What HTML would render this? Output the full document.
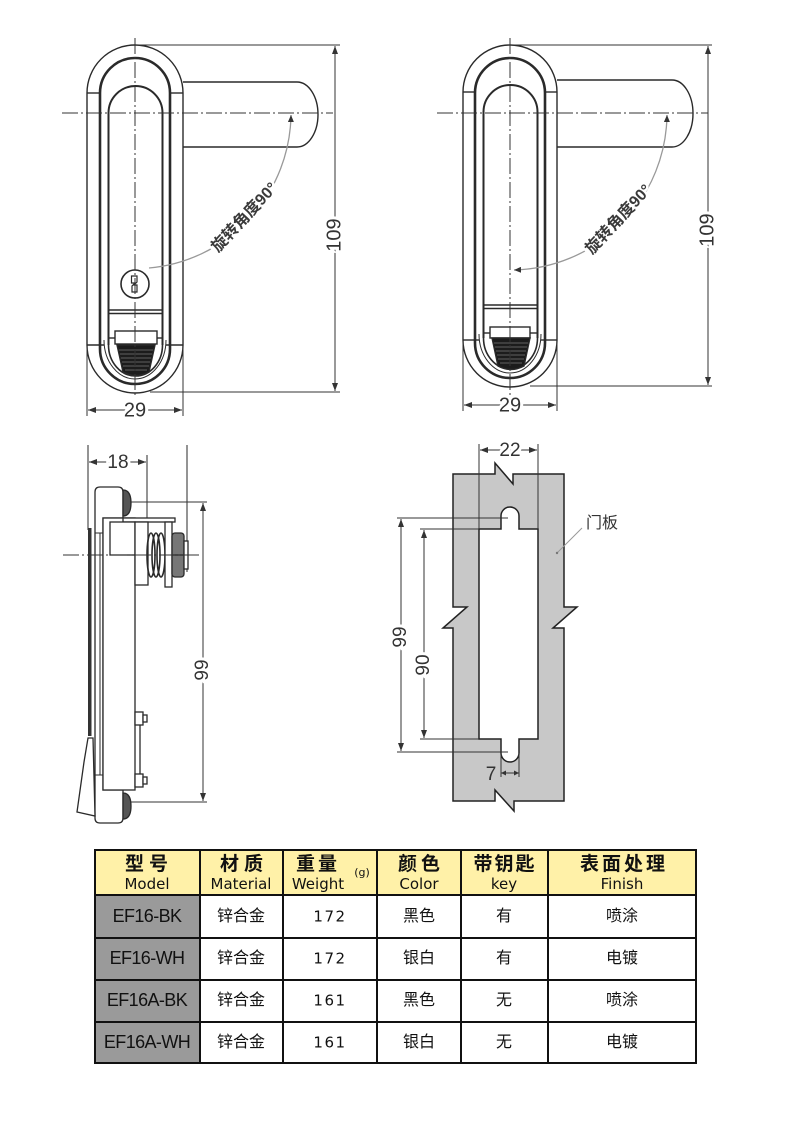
<!DOCTYPE html>
<html><head><meta charset="utf-8"><style>
html,body{margin:0;padding:0;background:#fff;}
svg{display:block;}
text{font-family:"Liberation Sans","Noto Sans CJK SC",sans-serif;}
</style></head><body>
<svg width="790" height="1124" viewBox="0 0 790 1124" xmlns="http://www.w3.org/2000/svg">
<defs>
<marker id="ar" markerWidth="8" markerHeight="6" refX="8" refY="3" orient="auto-start-reverse" markerUnits="userSpaceOnUse"><path d="M0,0 L8,3 L0,6 z" fill="#333"/></marker>
<marker id="ag" markerWidth="7" markerHeight="6" refX="7" refY="3" orient="auto-start-reverse" markerUnits="userSpaceOnUse"><path d="M0,0 L7,3 L0,6 z" fill="#333"/></marker>
</defs>
<rect width="790" height="1124" fill="#fff"/>

<!-- ========== TOP LEFT ========== -->
<g fill="none" stroke="#2a2a2a" stroke-width="1.4">
  <path d="M183,82 H297 A21,32.5 0 0 1 297,147 H183"/>
  <rect x="87" y="45" width="96" height="348" rx="48" fill="#fff"/>
  <line x1="87" y1="93" x2="100" y2="93"/><line x1="170" y1="93" x2="183" y2="93"/>
  <line x1="87" y1="345" x2="104" y2="345"/><line x1="166" y1="345" x2="183" y2="345"/>
  <rect x="100" y="58" width="70" height="326" rx="35" stroke-width="2.6"/>
  <path d="M108.5,345 V113 A27,27 0 0 1 162.5,113 V345" stroke-width="2"/>
  <path d="M108.5,345 A27,31 0 0 0 162.5,345" stroke-width="1.6"/>
  <path d="M104,340 A31,39 0 0 0 166,340" stroke-width="1"/>
  <line x1="109" y1="310" x2="162" y2="310"/><line x1="109" y1="313.5" x2="162" y2="313.5"/>
  <rect x="115" y="331" width="42" height="13" fill="#fff"/>
  <line x1="109" y1="338" x2="115" y2="338"/><line x1="157" y1="338" x2="162" y2="338"/>
  <path d="M117,345 L155,345 L149,372 Q136,379 123,372 Z" fill="#1c1c1c"/>
  <circle cx="135" cy="284" r="14" stroke-width="1.6"/>
  <path d="M131.5,276 H137 V282 L134,285 H137 V292 H132 V286 L135,283 H131.5 Z" stroke-width="1.2"/>
</g>
<g stroke="#777" stroke-width="0.7">
  <line x1="119" y1="350" x2="153" y2="350"/><line x1="120" y1="354" x2="152" y2="354"/>
  <line x1="121" y1="358" x2="151" y2="358"/><line x1="122" y1="362" x2="150" y2="362"/>
  <line x1="123" y1="366" x2="149" y2="366"/><line x1="125" y1="370" x2="147" y2="370"/>
</g>
<g stroke="#333" stroke-width="1" stroke-dasharray="16 3 2 3" fill="none">
  <line x1="62" y1="113" x2="333" y2="113"/>
  <line x1="135" y1="38" x2="135" y2="398"/>
</g>
<path d="M291,115 A156,156 0 0 1 149,268" fill="none" stroke="#999" stroke-width="1.3" marker-start="url(#ag)"/>
<text transform="translate(245,218) rotate(-47)" text-anchor="middle" dominant-baseline="middle" font-size="16" font-weight="bold" fill="#3a3a3a" stroke="#fff" stroke-width="5" paint-order="stroke">旋转角度90°</text>
<g stroke="#333" stroke-width="1" fill="none">
  <line x1="135" y1="45" x2="340" y2="45"/>
  <line x1="150" y1="392" x2="340" y2="392"/>
  <line x1="335" y1="46" x2="335" y2="391" marker-start="url(#ar)" marker-end="url(#ar)"/>
  <line x1="87" y1="346" x2="87" y2="416"/><line x1="183" y1="346" x2="183" y2="416"/>
  <line x1="88" y1="410" x2="182" y2="410" marker-start="url(#ar)" marker-end="url(#ar)"/>
</g>
<text transform="translate(335,235) rotate(-90)" text-anchor="middle" dominant-baseline="middle" font-size="20" fill="#333" stroke="#fff" stroke-width="6" paint-order="stroke">109</text>
<text x="135" y="411" text-anchor="middle" dominant-baseline="middle" font-size="20" fill="#333" stroke="#fff" stroke-width="6" paint-order="stroke">29</text>

<!-- ========== TOP RIGHT ========== -->
<g fill="none" stroke="#2a2a2a" stroke-width="1.4">
  <path d="M557,80 H672 A21,33.5 0 0 1 672,147 H557"/>
  <rect x="463" y="45" width="94" height="342" rx="47" fill="#fff"/>
  <line x1="463" y1="92" x2="475" y2="92"/><line x1="545" y1="92" x2="557" y2="92"/>
  <line x1="463" y1="340" x2="479" y2="340"/><line x1="541" y1="340" x2="557" y2="340"/>
  <rect x="475" y="58" width="70" height="320" rx="35" stroke-width="2.6"/>
  <path d="M483.5,338 V112 A27,27 0 0 1 537.5,112 V338" stroke-width="2"/>
  <path d="M483.5,338 A27,31 0 0 0 537.5,338" stroke-width="1.6"/>
  <path d="M479,334 A31,39 0 0 0 541,334" stroke-width="1"/>
  <line x1="484" y1="305" x2="537" y2="305"/><line x1="484" y1="308.5" x2="537" y2="308.5"/>
  <rect x="490" y="327" width="40" height="11" fill="#fff"/>
  <line x1="484" y1="333" x2="490" y2="333"/><line x1="530" y1="333" x2="537" y2="333"/>
  <path d="M492,338 L530,338 L524,366 Q511,373 498,366 Z" fill="#1c1c1c"/>
</g>
<g stroke="#777" stroke-width="0.7">
  <line x1="494" y1="343" x2="528" y2="343"/><line x1="495" y1="347" x2="527" y2="347"/>
  <line x1="496" y1="351" x2="526" y2="351"/><line x1="497" y1="355" x2="525" y2="355"/>
  <line x1="498" y1="359" x2="524" y2="359"/><line x1="500" y1="363" x2="522" y2="363"/>
</g>
<g stroke="#333" stroke-width="1" stroke-dasharray="16 3 2 3" fill="none">
  <line x1="437" y1="113" x2="708" y2="113"/>
  <line x1="510" y1="38" x2="510" y2="398"/>
</g>
<path d="M667,115 A157,157 0 0 1 514,270" fill="none" stroke="#999" stroke-width="1.3" marker-start="url(#ag)" marker-end="url(#ag)"/>
<text transform="translate(619,220) rotate(-47)" text-anchor="middle" dominant-baseline="middle" font-size="16" font-weight="bold" fill="#3a3a3a" stroke="#fff" stroke-width="5" paint-order="stroke">旋转角度90°</text>
<g stroke="#333" stroke-width="1" fill="none">
  <line x1="510" y1="45" x2="712" y2="45"/>
  <line x1="530" y1="386" x2="712" y2="386"/>
  <line x1="708" y1="46" x2="708" y2="385" marker-start="url(#ar)" marker-end="url(#ar)"/>
  <line x1="463" y1="341" x2="463" y2="411"/><line x1="557" y1="341" x2="557" y2="411"/>
  <line x1="464" y1="405" x2="556" y2="405" marker-start="url(#ar)" marker-end="url(#ar)"/>
</g>
<text transform="translate(708,230) rotate(-90)" text-anchor="middle" dominant-baseline="middle" font-size="20" fill="#333" stroke="#fff" stroke-width="6" paint-order="stroke">109</text>
<text x="510" y="406" text-anchor="middle" dominant-baseline="middle" font-size="20" fill="#333" stroke="#fff" stroke-width="6" paint-order="stroke">29</text>

<!-- ========== SIDE VIEW ========== -->
<g fill="none" stroke="#2a2a2a" stroke-width="1.3">
  <line x1="88" y1="445" x2="88" y2="530" stroke-width="1"/>
  <line x1="147" y1="455" x2="147" y2="522" stroke-width="1"/>
  <line x1="187" y1="445" x2="187" y2="572" stroke-width="1"/>
  <rect x="88" y="528" width="3.5" height="208" fill="#333" stroke="none"/>
  <path d="M103,518 H123 V492 Q123,487 118,487 H100 Q95,487 95,492 V818 Q95,823 100,823 H118 Q123,823 123,818 V790 H103 Z" fill="#fff"/>
  <line x1="100" y1="533" x2="100" y2="775" stroke-width="1"/>
  <line x1="95" y1="533" x2="103" y2="533" stroke-width="1"/>
  <line x1="95" y1="775" x2="103" y2="775" stroke-width="1"/>
  <rect x="103" y="518" width="32" height="272" fill="#fff"/>
  <rect x="123" y="518" width="52" height="4" fill="#fff"/>
  <rect x="110" y="522" width="25" height="33" fill="#fff"/>
  <rect x="135" y="522" width="13" height="63" fill="#fff"/>
  <ellipse cx="151" cy="555" rx="4" ry="22" stroke-width="1.6"/>
  <ellipse cx="156" cy="555" rx="4" ry="22" stroke-width="1.6"/>
  <ellipse cx="161" cy="555" rx="4" ry="22" stroke-width="1.6"/>
  <rect x="165" y="522" width="7" height="65" fill="#fff"/>
  <rect x="172" y="533" width="12" height="44" rx="3" fill="#777"/>
  <line x1="172" y1="555" x2="184" y2="555"/>
  <rect x="184" y="541" width="4" height="28" fill="#fff"/>
  <path d="M123,490 Q131,490 131,503 Q131,516 123,516 Z" fill="#555"/>
  <path d="M123,793 Q131,793 131,806 Q131,819 123,819 Z" fill="#555"/>
  <rect x="135" y="712" width="8" height="13" fill="#fff"/>
  <rect x="143" y="715" width="4" height="7" fill="#fff"/>
  <rect x="135" y="774" width="8" height="13" fill="#fff"/>
  <rect x="143" y="777" width="4" height="7" fill="#fff"/>
  <line x1="140" y1="725" x2="140" y2="774"/>
  <polygon points="88,738 93,738 95,816 77,812 84,762" fill="#fff"/>
</g>
<g stroke="#333" stroke-width="1" stroke-dasharray="16 3 2 3" fill="none">
  <line x1="63" y1="555" x2="202" y2="555"/>
</g>
<g stroke="#333" stroke-width="1" fill="none">
  <line x1="89" y1="462" x2="146" y2="462" marker-start="url(#ar)" marker-end="url(#ar)"/>
  <line x1="131" y1="502" x2="207" y2="502"/>
  <line x1="131" y1="802" x2="207" y2="802"/>
  <line x1="203" y1="503" x2="203" y2="801" marker-start="url(#ar)" marker-end="url(#ar)"/>
</g>
<text x="118" y="463" text-anchor="middle" dominant-baseline="middle" font-size="19" fill="#333" stroke="#fff" stroke-width="6" paint-order="stroke">18</text>
<text transform="translate(203,670) rotate(-90)" text-anchor="middle" dominant-baseline="middle" font-size="19" fill="#333" stroke="#fff" stroke-width="6" paint-order="stroke">99</text>

<!-- ========== CUTOUT ========== -->
<polygon points="453,474 495,474 495,463 513,484 513,474 564,474 564,607 577,607 553,628 564,628 564,801 514,801 514,811 495,790 495,801 453,801 453,628 443,628 467,607 453,607" fill="#c8c8c8" stroke="#222" stroke-width="1.5"/>
<path d="M479,529 H501 V516 A9,9 0 0 1 519,516 V529 H538 V739 H519 V753 A9,9 0 0 1 501,753 V739 H479 Z" fill="#fff" stroke="#222" stroke-width="1.5"/>
<g stroke="#333" stroke-width="1" fill="none">
  <line x1="479" y1="444" x2="479" y2="529"/>
  <line x1="538" y1="444" x2="538" y2="529"/>
  <line x1="480" y1="450" x2="537" y2="450" marker-start="url(#ar)" marker-end="url(#ar)"/>
  <line x1="397" y1="518" x2="508" y2="518"/>
  <line x1="397" y1="752" x2="508" y2="752"/>
  <line x1="401" y1="519" x2="401" y2="751" marker-start="url(#ar)" marker-end="url(#ar)"/>
  <line x1="420" y1="529" x2="479" y2="529"/>
  <line x1="420" y1="739" x2="479" y2="739"/>
  <line x1="424" y1="530" x2="424" y2="738" marker-start="url(#ar)" marker-end="url(#ar)"/>
  <line x1="501" y1="753" x2="501" y2="777"/>
  <line x1="519" y1="753" x2="519" y2="777"/>
  <line x1="501" y1="773" x2="519" y2="773"/>
</g>
<path d="M501,773 l5,-2.5 v5 z M519,773 l-5,-2.5 v5 z" fill="#333"/>
<text x="510" y="451" text-anchor="middle" dominant-baseline="middle" font-size="19" fill="#333" stroke="#fff" stroke-width="6" paint-order="stroke">22</text>
<text transform="translate(401,637) rotate(-90)" text-anchor="middle" dominant-baseline="middle" font-size="19" fill="#333" stroke="#fff" stroke-width="6" paint-order="stroke">99</text>
<text transform="translate(424,665) rotate(-90)" text-anchor="middle" dominant-baseline="middle" font-size="19" fill="#333" stroke="#fff" stroke-width="6" paint-order="stroke">90</text>
<text x="491" y="775" text-anchor="middle" dominant-baseline="middle" font-size="19" fill="#333">7</text>
<line x1="582" y1="528" x2="557" y2="553" stroke="#999" stroke-width="1"/>
<circle cx="557" cy="553" r="1.2" fill="#777"/>
<text x="586" y="528" font-size="16" fill="#333">门板</text>

<!-- ========== TABLE ========== -->
<rect x="94" y="849" width="603" height="46" fill="#FFF1A8"/>
<rect x="94" y="895" width="106" height="169" fill="#9a9a9a"/>
<g stroke="#111" stroke-width="2" fill="none">
  <rect x="95" y="850" width="601" height="213"/>
  <line x1="94" y1="895" x2="697" y2="895"/>
  <line x1="94" y1="938" x2="697" y2="938"/>
  <line x1="94" y1="980" x2="697" y2="980"/>
  <line x1="94" y1="1022" x2="697" y2="1022"/>
  <line x1="200" y1="849" x2="200" y2="1064"/>
  <line x1="283" y1="849" x2="283" y2="1064"/>
  <line x1="377" y1="849" x2="377" y2="1064"/>
  <line x1="461" y1="849" x2="461" y2="1064"/>
  <line x1="548" y1="849" x2="548" y2="1064"/>
</g>
<g font-weight="bold" font-size="19" fill="#111" text-anchor="middle">
  <text x="149" y="870" letter-spacing="5">型号</text>
  <text x="244" y="870" letter-spacing="5">材质</text>
  <text x="318" y="870" letter-spacing="3">重量</text>
  <text x="421" y="870" letter-spacing="4">颜色</text>
  <text x="505" y="870" letter-spacing="2">带钥匙</text>
  <text x="624" y="870" letter-spacing="3">表面处理</text>
</g>
<g font-size="15" fill="#111" text-anchor="middle">
  <text x="147" y="889" style="font-family:'DejaVu Sans',sans-serif">Model</text>
  <text x="241" y="889" style="font-family:'DejaVu Sans',sans-serif">Material</text>
  <text x="318" y="889" style="font-family:'DejaVu Sans',sans-serif">Weight</text>
  <text x="419" y="889" style="font-family:'DejaVu Sans',sans-serif">Color</text>
  <text x="504" y="889" style="font-family:'DejaVu Sans',sans-serif">key</text>
  <text x="622" y="889" style="font-family:'DejaVu Sans',sans-serif">Finish</text>
  <text x="362" y="876" font-size="11" style="font-family:'DejaVu Sans',sans-serif">(g)</text>
</g>
<g font-size="18" fill="#111" text-anchor="middle" dominant-baseline="middle">
  <text x="147" y="917" letter-spacing="-0.6">EF16-BK</text>
  <text x="147" y="959" letter-spacing="-0.6">EF16-WH</text>
  <text x="147" y="1001" letter-spacing="-0.6">EF16A-BK</text>
  <text x="147" y="1043" letter-spacing="-0.6">EF16A-WH</text>
</g>
<g font-size="16" fill="#111" text-anchor="middle" dominant-baseline="middle">
  <text x="241" y="917">锌合金</text><text x="241" y="959">锌合金</text><text x="241" y="1001">锌合金</text><text x="241" y="1043">锌合金</text>
  <text x="330" y="917" letter-spacing="1.5" style="font-family:'DejaVu Sans',sans-serif" font-size="15">172</text>
  <text x="330" y="959" letter-spacing="1.5" style="font-family:'DejaVu Sans',sans-serif" font-size="15">172</text>
  <text x="330" y="1001" letter-spacing="1.5" style="font-family:'DejaVu Sans',sans-serif" font-size="15">161</text>
  <text x="330" y="1043" letter-spacing="1.5" style="font-family:'DejaVu Sans',sans-serif" font-size="15">161</text>
  <text x="419" y="917">黑色</text><text x="419" y="959">银白</text><text x="419" y="1001">黑色</text><text x="419" y="1043">银白</text>
  <text x="504" y="917">有</text><text x="504" y="959">有</text><text x="504" y="1001">无</text><text x="504" y="1043">无</text>
  <text x="622" y="917">喷涂</text><text x="622" y="959">电镀</text><text x="622" y="1001">喷涂</text><text x="622" y="1043">电镀</text>
</g>
</svg>
</body></html>
